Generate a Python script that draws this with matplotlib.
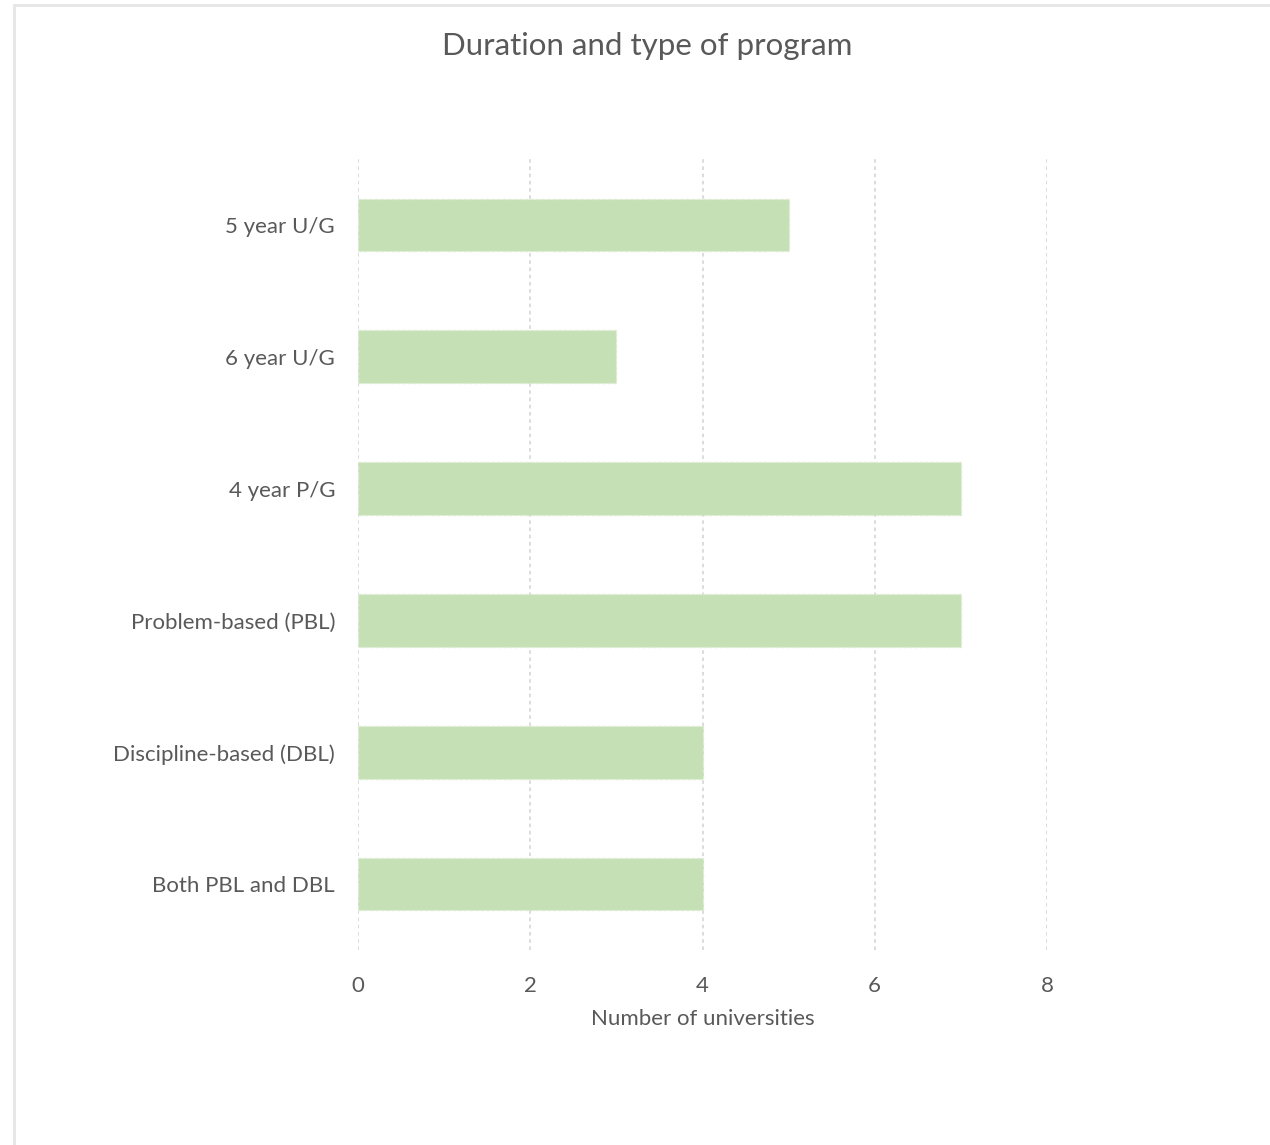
import matplotlib.pyplot as plt
from matplotlib.patches import Rectangle

categories = ['5 year U/G', '6 year U/G', '4 year P/G',
              'Problem-based (PBL)', 'Discipline-based (DBL)', 'Both PBL and DBL']
counts = [5, 3, 7, 7, 4, 4]
xticks = [0, 2, 4, 6, 8]

plt.rcParams['font.family'] = ['Lato', 'DejaVu Sans']
text_grey = '#595959'

fig = plt.figure(figsize=(12.7, 11.45), dpi=100)
ax = fig.add_axes([0.2819, 0.1703, 0.5425, 0.6908])

# outer chart frame, only the top and left edges show
fig.patches.append(Rectangle((14 / 1270, -0.1), 1.2, 1 - 5 / 1145 + 0.1,
                             transform=fig.transFigure, fill=False,
                             edgecolor='#e6e6e6', linewidth=2))

y = list(range(len(categories)))
ax.barh(y, counts, height=0.4, color='#c5e0b4',
        edgecolor='#dcebd2', linewidth=1, linestyle=(0, (2, 2)), zorder=3)

ax.set_xlim(0, 8)
ax.set_ylim(len(categories) - 0.5, -0.5)
ax.set_xticks(xticks)
ax.set_yticks(y)
ax.set_yticklabels(categories)

ax.grid(axis='x', color='#d9d9d9', linestyle=(0, (2, 2)), linewidth=1.3, zorder=0)
ax.grid(axis='y', visible=False)
for s in ax.spines.values():
    s.set_visible(False)
ax.tick_params(axis='both', length=0, colors=text_grey, labelsize=16)
ax.tick_params(axis='x', pad=19)
ax.tick_params(axis='y', pad=16.5)

ax.set_xlabel('Number of universities', fontsize=16, color=text_grey, labelpad=9)
fig.text(647 / 1270, 1 - 46 / 1145, 'Duration and type of program',
         ha='center', va='center', fontsize=22.5, color=text_grey)

fig.savefig('out.png', dpi=100)
